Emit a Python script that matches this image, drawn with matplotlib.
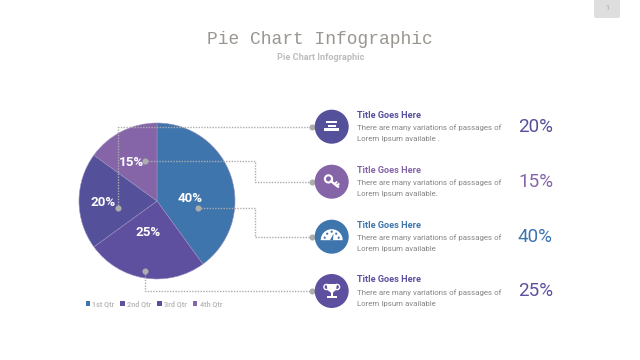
import matplotlib
matplotlib.use("Agg")
import matplotlib.pyplot as plt
from matplotlib.patches import Circle, Rectangle, Wedge, Polygon, FancyBboxPatch

plt.rcParams['font.family'] = ['Roboto', 'DejaVu Sans']

quarters = ["1st Qtr", "2nd Qtr", "3rd Qtr", "4th Qtr"]
shares = [40, 25, 20, 15]
pie_colors = ["#3f75ad", "#5f4f9f", "#55509a", "#8565a8"]
label_px = [(190, 198), (148, 232), (103, 203), (131, 163)]

row_order = [2, 3, 0, 1]
row_y = [126.7, 181.7, 236.7, 291.0]
row_colors = ["#55509a", "#8565a8", "#3f75ad", "#5f4f9f"]
row_second_lines = ["Lorem Ipsum available .", "Lorem Ipsum available.",
                    "Lorem Ipsum available", "Lorem Ipsum available"]
row_title = "Title Goes Here"
row_line = "There are many variations of passages of"
connectors = [
    [(118, 207.5), (118, 126.7), (312, 126.7)],
    [(144.7, 161), (255, 161), (255, 181.7), (312, 181.7)],
    [(198, 208), (255, 208), (255, 236.7), (312, 236.7)],
    [(144.7, 270.5), (144.7, 290.8), (312, 290.8)],
]

W, H = 640, 360
fig = plt.figure(figsize=(6.4, 3.6), dpi=100, facecolor="white")

# Pie chart, centre (157,201) radius 78 in pixels
cx, cy, r = 157, 201, 78
pie_ax = fig.add_axes([(cx - r) / W, 1 - (cy + r) / H, 2 * r / W, 2 * r / H])
wedges, _ = pie_ax.pie(shares, colors=pie_colors, startangle=90, counterclock=False,
                       radius=1.0, wedgeprops=dict(linewidth=0.4, edgecolor="#9a8fc0"))
pie_ax.set_xlim(-1, 1)
pie_ax.set_ylim(-1, 1)
pie_ax.set_aspect("equal")

# Overlay in pixel coordinates
ov = fig.add_axes([0, 0, 1, 1], zorder=5)
ov.set_xlim(0, W)
ov.set_ylim(H, 0)
ov.axis("off")
ov.patch.set_alpha(0)

grey = "#adadad"
for path in connectors:
    xs, ys = zip(*path)
    ov.plot(xs, ys, color=grey, lw=1.0, ls=(0, (1, 1)), zorder=2)
    ov.plot(xs[0], ys[0], "o", color=grey, ms=4.4, mew=0, zorder=3)
    ov.plot(xs[-1], ys[-1], "o", color=grey, ms=4.4, mew=0, zorder=3)

for v, (x, y) in zip(shares, label_px):
    ov.text(x, y, f"{v}%", color="white", fontsize=9.6, fontweight="bold",
            ha="center", va="center", zorder=4)

# Title and subtitle
ov.text(320, 39, "Pie Chart Infographic", family="Liberation Mono", fontsize=12.9,
        color="#9a9690", ha="center", va="center")
ov.text(320.5, 57, "Pie Chart Infographic", fontsize=6.6, fontweight="bold",
        color="#bdbdbd", ha="center", va="center")

# Page tab
ov.add_patch(FancyBboxPatch((594, -6), 26, 24, boxstyle="round,pad=0,rounding_size=2",
                            fc="#dedede", ec="none"))
ov.text(607, 9, "1", fontsize=5, color="#a5a5a5", ha="center", va="center")

# Rows
for i, y in enumerate(row_y):
    c = row_colors[i]
    ov.add_patch(Circle((331.7, y), 17, fc=c, ec="none", zorder=5))
    ov.text(357, y - 11, row_title, color=c, fontsize=6.6, fontweight="bold", va="center")
    ov.text(357, y + 1.2, row_line, color="#858585", fontsize=5.65, va="center")
    ov.text(357, y + 12.6, row_second_lines[i], color="#858585", fontsize=5.65, va="center")
    ov.text(518, y + 0.5, f"{shares[row_order[i]]}%", color=c, fontsize=13.6,
            fontweight="normal", va="center", ha="left")

w = "white"
# Icon 1: stacked bars
y = row_y[0]
for dx, dy, bw, bh in [(-5.5, -6, 11, 2.6), (-4, -2.2, 8, 2.4), (-7.5, 1.6, 15, 2.6)]:
    ov.add_patch(Rectangle((331.7 + dx, y + dy), bw, bh, fc=w, ec="none", zorder=6))
# Icon 2: key
y = row_y[1]
ov.add_patch(Circle((328.5, y - 2.8), 3.6, fc="none", ec=w, lw=1.5, zorder=6))
ov.plot([331, 338], [y - 0.5, y + 5], color=w, lw=1.6, zorder=6)
ov.plot([334.5, 336.5], [y + 2.4, y + 0.6], color=w, lw=1.4, zorder=6)
ov.plot([336.8, 338.6], [y + 4.2, y + 2.4], color=w, lw=1.4, zorder=6)
# Icon 3: gauge
y = row_y[2]
ov.add_patch(Wedge((331.7, y + 3.5), 11, 180, 360, fc=w, ec="none", zorder=6))
for dx, dy in [(-7, 1), (-4.5, -3), (0, -5), (4.5, -3), (7, 1)]:
    ov.add_patch(Circle((331.7 + dx, y + dy), 1.1, fc=row_colors[2], ec="none", zorder=7))
ov.add_patch(Polygon([(330, y + 3.5), (333, y + 3.5), (333.5, y - 3)], fc=row_colors[2], ec="none", zorder=7))
# Icon 4: trophy
y = row_y[3]
ov.add_patch(Polygon([(326.5, y - 7), (337, y - 7), (336, y - 1), (333, y + 1.5), (330.5, y + 1.5), (327.5, y - 1)],
                     fc=w, ec="none", zorder=6))
ov.add_patch(Circle((326.5, y - 4), 2.6, fc="none", ec=w, lw=1, zorder=6))
ov.add_patch(Circle((337, y - 4), 2.6, fc="none", ec=w, lw=1, zorder=6))
ov.add_patch(Rectangle((330.8, y + 1), 2, 3.5, fc=w, ec="none", zorder=6))
ov.add_patch(Rectangle((327, y + 4.5), 9.6, 2.5, fc=w, ec="none", zorder=6))

# Legend
leg = fig.legend(wedges, quarters, ncol=4, loc="center left",
                 bbox_to_anchor=(85.5 / W, 1 - 304 / H), frameon=False,
                 prop=dict(size=5.2, weight="bold"),
                 labelcolor="#bcbcbc", handlelength=0.65, handleheight=0.65,
                 handletextpad=0.3, columnspacing=0.8, borderpad=0, borderaxespad=0)
for h in leg.legend_handles:
    h.set_linewidth(0)
leg.set_zorder(10)

fig.savefig("out.png", dpi=100, facecolor="white")
